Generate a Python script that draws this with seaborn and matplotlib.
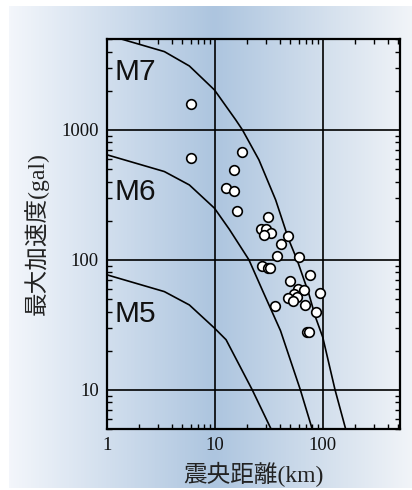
import numpy as np
import matplotlib
matplotlib.use("Agg")
import matplotlib.pyplot as plt
from matplotlib.colors import LinearSegmentedColormap
from matplotlib.ticker import LogLocator, NullFormatter
import seaborn as sns

# observed peak accelerations
dist = [6, 6, 18, 15, 12.8, 15, 16, 31, 27, 29.5, 33, 28.5, 48, 41, 38, 60,
        27.6, 31.3, 32.5, 76, 50, 59, 67, 54, 48, 58, 53, 94, 69, 36, 86, 72, 75]
pga = [1580, 605, 670, 490, 360, 340, 236, 215, 174, 172, 162, 154, 153, 133, 107, 106,
       90, 87, 86, 77, 69, 60, 59, 55, 51, 52, 48, 56, 45, 44.5, 40, 28, 28]

# attenuation curves
m7_x = [1, 3.4, 5.8, 9.9, 15.6, 18, 25.6, 36.6, 48.4, 57.8, 74, 85.3, 100, 130, 163]
m7_y = [5380, 4000, 3100, 2030, 1194, 1000, 588, 289, 143, 100, 55.5, 36.6, 25.4, 10, 5]
m6_x = [1, 3.4, 5.8, 9.9, 13.6, 20.7, 27.5, 40.6, 62, 79.4]
m6_y = [643, 478, 377, 250, 172, 100, 58.7, 28.5, 10, 5.07]
m5_x = [1, 3.4, 5.8, 9.9, 12.7, 22.2, 32.9]
m5_y = [76.7, 57, 45, 29.9, 24.3, 10, 5.07]

curve_names = ["M7", "M6", "M5"]
curve_label_y = [0.895, 0.587, 0.274]

x_ticks = [1, 10, 100]
y_ticks = [10, 100, 1000]

sns.set_style("ticks")
serif_cjk = ["Liberation Serif", "Noto Sans CJK JP"]
plt.rcParams["font.family"] = serif_cjk

W, H = 412, 490
fig = plt.figure(figsize=(W / 100, H / 100), dpi=100)

# background gradient
bg = fig.add_axes([9 / W, 2 / H, 403 / W, 482 / H], zorder=0)
cmap = LinearSegmentedColormap.from_list(
    "bg", [(0.0, "#f3f6fb"), (0.51, "#adc5df"), (1.0, "#f1f4f8")])
bg.imshow(np.linspace(0, 1, 400)[None, :], cmap=cmap, aspect="auto",
          extent=[0, 1, 0, 1])
bg.axis("off")

ax = fig.add_axes([107 / W, 1 - 429 / H, 293 / W, 390 / H], zorder=1)
ax.set_facecolor("none")
ax.set_xscale("log")
ax.set_yscale("log")
ax.set_xlim(1, 520)
ax.set_ylim(5, 5000)

for xs, ys in [(m7_x, m7_y), (m6_x, m6_y), (m5_x, m5_y)]:
    sns.lineplot(x=xs, y=ys, ax=ax, color="black", linewidth=1.2,
                 sort=False, estimator=None, zorder=3)

sns.scatterplot(x=dist, y=pga, ax=ax, s=48, color="white",
                edgecolor="black", linewidth=1.2, zorder=4)

for name, yy in zip(curve_names, curve_label_y):
    ax.text(0.025, yy, name, transform=ax.transAxes, fontsize=21.5,
            family="Liberation Sans", va="baseline", ha="left",
            color="#111111", zorder=5)

ax.set_xticks(x_ticks, labels=[str(v) for v in x_ticks])
ax.set_yticks(y_ticks, labels=[str(v) for v in y_ticks])
ax.xaxis.set_minor_locator(LogLocator(base=10, subs=np.arange(2, 10)))
ax.yaxis.set_minor_locator(LogLocator(base=10, subs=np.arange(2, 10)))
ax.xaxis.set_minor_formatter(NullFormatter())
ax.yaxis.set_minor_formatter(NullFormatter())
ax.tick_params(which="both", direction="in", top=True, right=True,
               labelsize=13.5, pad=6, color="black", labelcolor="#111111")
ax.tick_params(which="major", length=0)
ax.tick_params(which="minor", length=3.5, width=1)
ax.grid(True, which="major", color="black", linewidth=1.2)
ax.set_axisbelow(False)
for sp in ax.spines.values():
    sp.set_linewidth(1.6)
    sp.set_color("black")

ax.set_xlabel("震央距離(km)", fontsize=17, color="#222222")
ax.set_ylabel("最大加速度(gal)", fontsize=17, color="#222222")
ax.xaxis.set_label_coords(0.5, -0.085)
ax.yaxis.set_label_coords(-0.2, 0.5)

fig.savefig("out.png", dpi=100)
